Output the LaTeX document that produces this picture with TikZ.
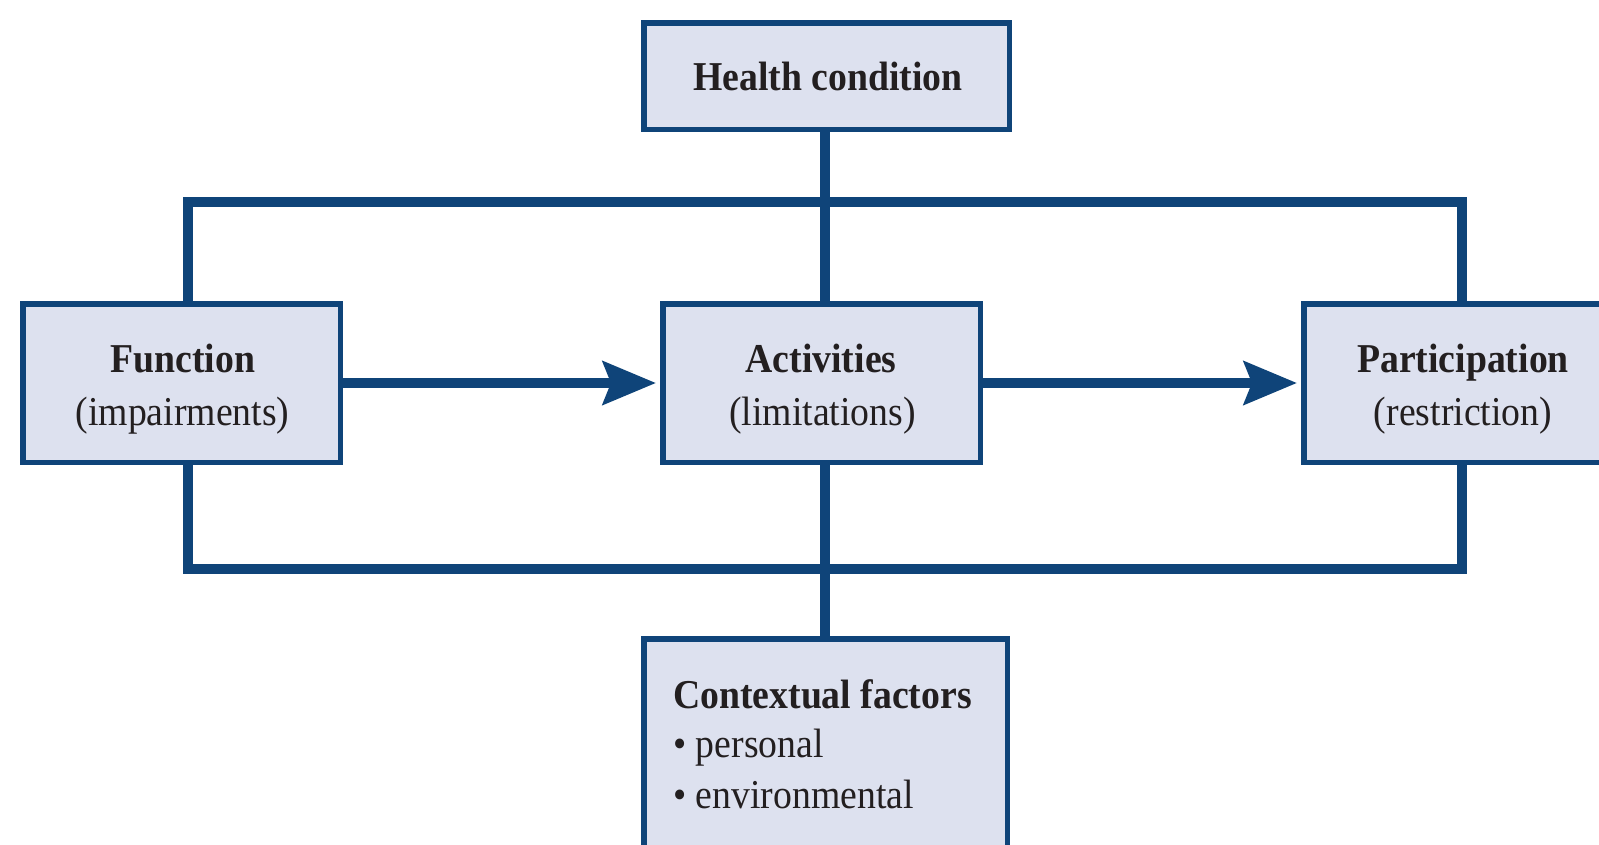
\documentclass[tikz,border=0pt]{standalone}
\usepackage{fontspec}
\setmainfont[FakeStretch=0.92]{Liberation Serif}
\usetikzlibrary{arrows.meta}

\definecolor{frameblue}{HTML}{0F4479}
\definecolor{boxfill}{HTML}{DDE1EF}
\definecolor{ink}{HTML}{231F20}

\tikzset{
  box/.style={draw=frameblue, fill=boxfill, line width=5.5pt, inner sep=0pt},
  link/.style={draw=frameblue, line width=10pt, line join=miter},
  flow/.style={link, -{Stealth[length=53pt, width=43pt, inset=8pt]}, shorten >=4pt},
  title/.style={anchor=base, text=ink, inner sep=0pt, font=\fontsize{41}{48}\selectfont\bfseries},
  sub/.style={anchor=base, text=ink, inner sep=0pt, font=\fontsize{41}{48}\selectfont},
  item/.style={anchor=base west, text=ink, inner sep=0pt, font=\fontsize{41}{48}\selectfont},
}

\begin{document}
\begin{tikzpicture}[x=1pt, y=-1pt]
  \useasboundingbox (0,0) rectangle (1599,844);
  \clip (0,0) rectangle (1599,844);

  % boxes
  \node[box, minimum width=365.5pt, minimum height=106.5pt] (hc) at (826.5,76) {};
  \node[box, minimum width=317.5pt, minimum height=158.5pt] (fn) at (181.5,383) {};
  \node[box, minimum width=317.5pt, minimum height=158.5pt] (ac) at (821.5,383) {};
  \node[box, minimum width=317.5pt, minimum height=158.5pt] (pa) at (1462.5,383) {};
  \node[box, minimum width=363.5pt, minimum height=240pt] (cf) at (825.5,759) {};

  % labels
  \node[title] (hcT) at (828,90) {Health condition};
  \node[title] (fnT) at (183,372) {Function};
  \node[sub]   (fnS) at (182.5,425) {(impairments)};
  \node[title] (acT) at (821,372) {Activities};
  \node[sub]   (acS) at (822.5,425) {(limitations)};
  \node[title] (paT) at (1463,372) {Participation};
  \node[sub]   (paS) at (1463,425) {(restriction)};
  \node[item, font=\fontsize{41}{48}\selectfont\bfseries] (cfT) at (673,708) {Contextual factors};
  \node[item]  (cfA) at (673,757) {• personal};
  \node[item]  (cfB) at (673,808) {• environmental};

  % junction points of the connecting frame
  \coordinate (spine) at (825,0);
  \coordinate (topL) at (188,202);
  \coordinate (topR) at (1462,202);
  \coordinate (botL) at (188,569);
  \coordinate (botR) at (1462,569);

  % connectors
  \draw[link] (hc.south -| spine) -- (ac.north -| spine);
  \draw[link] (ac.south -| spine) -- (cf.north -| spine);
  \draw[link] (fn.north -| topL) -- (topL) -- (topR) -- (pa.north -| topR);
  \draw[link] (fn.south -| botL) -- (botL) -- (botR) -- (pa.south -| botR);
  \draw[flow] (fn.east) -- (ac.west);
  \draw[flow] (ac.east) -- (pa.west);
\end{tikzpicture}
\end{document}
